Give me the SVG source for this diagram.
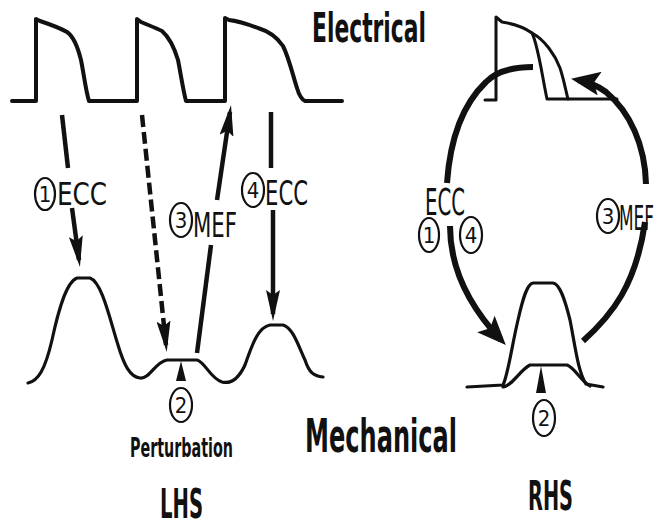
<svg xmlns="http://www.w3.org/2000/svg" width="659" height="528" viewBox="0 0 659 528">
<defs>
<style>
.trace{fill:none;stroke:#111;stroke-width:4;stroke-linejoin:round;stroke-linecap:round}
.thin{fill:none;stroke:#111;stroke-width:3;stroke-linejoin:round;stroke-linecap:round}
.mech{fill:none;stroke:#111;stroke-width:3.2;stroke-linejoin:round;stroke-linecap:round}
.conn{fill:none;stroke:#111;stroke-width:4.5}
.dash{stroke-dasharray:12 5}
.arc{fill:none;stroke:#111;stroke-width:6}
.lbl{font-family:"DejaVu Sans Condensed","Liberation Sans",sans-serif;fill:#111}
.big{font-weight:bold}
.num{fill:#fff;stroke:#111;stroke-width:2.2}
.dig{font-family:"DejaVu Sans Condensed","Liberation Sans",sans-serif;fill:#111;text-anchor:middle;font-size:22px}
.tri{fill:#111}
</style>
<marker id="ah" markerUnits="userSpaceOnUse" viewBox="0 0 32 14" markerWidth="32" markerHeight="14" refX="24" refY="7" orient="auto">
<path d="M0,0 L31,7 L0,14 L5,7 z" fill="#111"/>
</marker>
<marker id="ahw" markerUnits="userSpaceOnUse" viewBox="0 0 30 24" markerWidth="30" markerHeight="24" refX="22" refY="12" orient="auto">
<path d="M0,0 L29,12 L0,24 L6,12 z" fill="#111"/>
</marker>
</defs>
<rect width="659" height="528" fill="#fff"/>

<g id="lhs-electrical">
<path class="trace" d="M12,101 H36 V19 L40,21 C46,23 58,27 67,32 C73,36 78,48 81,60 C84,75 86,92 89,101 H137 V19 L141,22 C148,25 156,28 162,31 C170,38 175,50 178,60 C181,75 183,90 186,101 H225 V18 L229,20 C238,21 250,25 258,28 C268,31 277,37 283,46 C289,58 293,76 297,88 C299,95 301,99 305,101 H342"/>
</g>

<g id="lhs-mechanical">
<path class="mech" d="M28,383 C38,381 45,370 52,340 C58,312 66,282 77,278 L90,278 C102,282 110,320 118,345 C124,365 130,377 140,378 C150,379 155,362 167,360 L197,360 C205,362 210,378 222,382 C230,384 238,380 245,365 C252,345 258,327 270,325 L283,325 C293,328 298,345 305,360 C309,372 313,376 323,377"/>
</g>

<g id="lhs-perturbation">
<polygon class="tri" points="181,361 176,381 186,381"/>
<ellipse class="num" cx="181" cy="405" rx="11" ry="17"/>
<text class="dig" x="181" y="413">2</text>
<text class="lbl big" x="130" y="457" font-size="26" textLength="103" lengthAdjust="spacingAndGlyphs">Perturbation</text>
</g>

<g id="labels">
<text id="electrical" class="lbl big" x="312" y="42" font-size="40" textLength="114" lengthAdjust="spacingAndGlyphs">Electrical</text>
<text id="mechanical" class="lbl big" x="305" y="452" font-size="46" textLength="152" lengthAdjust="spacingAndGlyphs">Mechanical</text>
<text id="lhs" class="lbl big" x="160" y="518" font-size="41" textLength="43" lengthAdjust="spacingAndGlyphs">LHS</text>
<text id="rhs" class="lbl big" x="528" y="510" font-size="40" textLength="45" lengthAdjust="spacingAndGlyphs">RHS</text>
</g>

<g id="rhs-electrical">
<path class="thin" d="M485,100 H496 V17 L502,22 C515,24 525,28 532,33 C538,45 542,75 547,99 H617"/>
<path class="thin" d="M532,33 C545,40 555,55 560,68 C564,80 566,92 568,99"/>
</g>

<g id="rhs-mechanical">
<path class="mech" d="M467,387 L503,385 C508,375 512,345 518,320 C523,298 527,284 533,283 L553,283 C560,284 565,300 570,320 C575,345 578,372 586,384 L603,387"/>
<path class="mech" d="M503,387 C512,386 520,370 530,365 L567,365 C575,368 580,380 590,386"/>
<polygon class="tri" points="541,366 536,393 546,393"/>
<ellipse class="num" cx="544" cy="418" rx="11" ry="18"/>
<text class="dig" x="544" y="426">2</text>
</g>

<g id="connectors">
<path class="conn" d="M62,115 L68,168"/>
<path class="conn" d="M72,208 L79,260" marker-end="url(#ah)"/>
<path class="conn dash" d="M142,115 L166,345" marker-end="url(#ah)"/>
<path class="conn" d="M197,353 L211,245"/>
<path class="conn" d="M217,200 L230,112" marker-end="url(#ah)"/>
<path class="conn" d="M271,112 L271,168"/>
<path class="conn" d="M273,210 L273,314" marker-end="url(#ah)"/>
<path class="arc" d="M533,67 C512,67 496,72 486,82 C463,104 450,140 447,183"/>
<path class="arc" d="M450,226 C450,268 468,305 501,340" marker-end="url(#ahw)"/>
<path class="arc" d="M583,341 C612,315 636,285 645,222"/>
<path class="arc" d="M646,184 C645,145 630,112 606,92 C598,86 590,82 578,80" marker-end="url(#ahw)"/>
</g>

<g id="lbl-ecc1">
<ellipse class="num" cx="45" cy="194" rx="10" ry="16"/>
<text class="dig" x="45" y="202">1</text>
<text class="lbl" x="57" y="205" font-size="32" textLength="50" lengthAdjust="spacingAndGlyphs">ECC</text>
</g>
<g id="lbl-mef3">
<ellipse class="num" cx="181" cy="220" rx="11" ry="17"/>
<text class="dig" x="181" y="228">3</text>
<text class="lbl" x="193" y="237" font-size="34" textLength="44" lengthAdjust="spacingAndGlyphs">MEF</text>
</g>
<g id="lbl-ecc4">
<ellipse class="num" cx="253" cy="190" rx="11" ry="17"/>
<text class="dig" x="253" y="198">4</text>
<text class="lbl" x="265" y="205" font-size="33" textLength="43" lengthAdjust="spacingAndGlyphs">ECC</text>
</g>
<g id="rhs-lbl-ecc">
<text class="lbl" x="425" y="215" font-size="37" textLength="40" lengthAdjust="spacingAndGlyphs">ECC</text>
<ellipse class="num" cx="429" cy="235" rx="10" ry="17"/>
<text class="dig" x="429" y="243">1</text>
<ellipse class="num" cx="471" cy="235" rx="11" ry="18"/>
<text class="dig" x="471" y="243">4</text>
</g>
<g id="rhs-lbl-mef">
<ellipse class="num" cx="608" cy="216" rx="11" ry="17"/>
<text class="dig" x="608" y="224">3</text>
<text class="lbl" x="619" y="230" font-size="34" textLength="35" lengthAdjust="spacingAndGlyphs">MEF</text>
</g>
</svg>
